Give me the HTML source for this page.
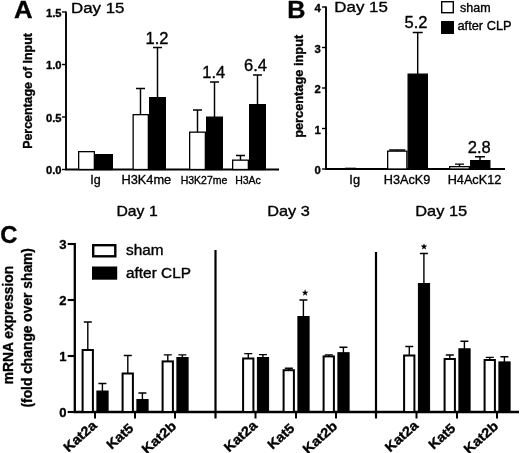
<!DOCTYPE html>
<html><head><meta charset="utf-8"><title>Figure</title>
<style>
html,body{margin:0;padding:0;background:#fff;}
body{width:520px;height:453px;overflow:hidden;font-family:"Liberation Sans",sans-serif;}
svg{display:block;}
svg text{font-family:"Liberation Sans",sans-serif;fill:#000;stroke:#000;stroke-width:0.35px;stroke-linejoin:round;}
svg{filter:blur(0.35px);}
</style></head><body>
<svg width="520" height="453" viewBox="0 0 520 453">
<rect width="520" height="453" fill="#fff"/>
<path d="M66 11.5V169.5M65.2 169.5H279" stroke="#000" stroke-width="1.9" fill="none"/>
<path d="M62 12.0H66" stroke="#000" stroke-width="1.4"/>
<text x="61.6" y="16.5" font-size="11.2" font-weight="bold" text-anchor="end">1.5</text>
<path d="M62 64.5H66" stroke="#000" stroke-width="1.4"/>
<text x="61.6" y="69.0" font-size="11.2" font-weight="bold" text-anchor="end">1.0</text>
<path d="M62 117.0H66" stroke="#000" stroke-width="1.4"/>
<text x="61.6" y="121.5" font-size="11.2" font-weight="bold" text-anchor="end">0.5</text>
<path d="M62 169.5H66" stroke="#000" stroke-width="1.4"/>
<text x="61.6" y="174.0" font-size="11.2" font-weight="bold" text-anchor="end">0.0</text>
<text x="14" y="18.3" font-size="24.3" font-weight="bold" text-anchor="start" textLength="18.6" lengthAdjust="spacingAndGlyphs">A</text>
<text x="71" y="12.5" font-size="15.5" text-anchor="start" textLength="53.5" lengthAdjust="spacingAndGlyphs">Day 15</text>
<text x="32.3" y="91" font-size="12.4" font-weight="bold" text-anchor="middle" transform="rotate(-90 32.3 91)">Percentage of Input</text>
<rect x="78.65" y="151.65" width="15.70" height="17.85" fill="#fff" stroke="#000" stroke-width="1.3"/>
<rect x="95.65" y="154.65" width="16.70" height="14.85" fill="#000" stroke="#000" stroke-width="1.3"/>
<path d="M140.50 115.00V88.50M136.00 88.50H145.00" stroke="#000" stroke-width="1.45" fill="none"/>
<rect x="133.15" y="114.65" width="15.20" height="54.85" fill="#fff" stroke="#000" stroke-width="1.3"/>
<path d="M157.50 98.00V47.50M153.00 47.50H162.00" stroke="#000" stroke-width="1.45" fill="none"/>
<rect x="149.65" y="97.65" width="15.70" height="71.85" fill="#000" stroke="#000" stroke-width="1.3"/>
<path d="M197.50 132.50V110.00M193.00 110.00H202.00" stroke="#000" stroke-width="1.45" fill="none"/>
<rect x="189.65" y="132.15" width="15.70" height="37.35" fill="#fff" stroke="#000" stroke-width="1.3"/>
<path d="M214.50 117.50V82.00M210.00 82.00H219.00" stroke="#000" stroke-width="1.45" fill="none"/>
<rect x="206.65" y="117.15" width="15.70" height="52.35" fill="#000" stroke="#000" stroke-width="1.3"/>
<path d="M240.50 160.50V155.50M236.00 155.50H245.00" stroke="#000" stroke-width="1.45" fill="none"/>
<rect x="232.65" y="160.15" width="15.70" height="9.35" fill="#fff" stroke="#000" stroke-width="1.3"/>
<path d="M257.50 105.00V75.00M253.00 75.00H262.00" stroke="#000" stroke-width="1.45" fill="none"/>
<rect x="249.65" y="104.65" width="15.70" height="64.85" fill="#000" stroke="#000" stroke-width="1.3"/>
<text x="157" y="43.5" font-size="16.5" text-anchor="middle">1.2</text>
<text x="213.8" y="77.5" font-size="16.5" text-anchor="middle">1.4</text>
<text x="255.5" y="71" font-size="16.5" text-anchor="middle">6.4</text>
<text x="95.5" y="184" font-size="12.5" text-anchor="middle">Ig</text>
<text x="146.3" y="183.5" font-size="12.8" text-anchor="middle">H3K4me</text>
<text x="204" y="183.5" font-size="10.5" text-anchor="middle">H3K27me</text>
<text x="248" y="183.5" font-size="10.5" text-anchor="middle">H3Ac</text>
<path d="M326 6.5V169M325.2 169H505" stroke="#000" stroke-width="1.9" fill="none"/>
<path d="M322 7.0H326" stroke="#000" stroke-width="1.4"/>
<text x="320.8" y="12.2" font-size="11.3" font-weight="bold" text-anchor="end">4</text>
<path d="M322 47.5H326" stroke="#000" stroke-width="1.4"/>
<text x="320.8" y="52.7" font-size="11.3" font-weight="bold" text-anchor="end">3</text>
<path d="M322 88.0H326" stroke="#000" stroke-width="1.4"/>
<text x="320.8" y="93.2" font-size="11.3" font-weight="bold" text-anchor="end">2</text>
<path d="M322 128.5H326" stroke="#000" stroke-width="1.4"/>
<text x="320.8" y="133.7" font-size="11.3" font-weight="bold" text-anchor="end">1</text>
<path d="M322 169.0H326" stroke="#000" stroke-width="1.4"/>
<text x="320.8" y="174.2" font-size="11.3" font-weight="bold" text-anchor="end">0</text>
<text x="287.3" y="18.3" font-size="24.3" font-weight="bold" text-anchor="start" textLength="18.2" lengthAdjust="spacingAndGlyphs">B</text>
<text x="334.3" y="12.3" font-size="15.5" text-anchor="start" textLength="53.5" lengthAdjust="spacingAndGlyphs">Day 15</text>
<text x="303.1" y="86.3" font-size="12.8" font-weight="bold" text-anchor="middle" transform="rotate(-90 303.1 86.3)">percentage input</text>
<path d="M345 168.1H356" stroke="#000" stroke-width="0.8"/>
<path d="M397.20 151.50V149.90M389.20 149.90H405.20" stroke="#000" stroke-width="1.45" fill="none"/>
<rect x="387.65" y="151.15" width="19.20" height="17.85" fill="#fff" stroke="#000" stroke-width="1.3"/>
<path d="M417.70 74.50V32.50M412.70 32.50H422.70" stroke="#000" stroke-width="1.45" fill="none"/>
<rect x="408.15" y="74.15" width="19.20" height="94.85" fill="#000" stroke="#000" stroke-width="1.3"/>
<path d="M459.50 167.00V164.10M455.00 164.10H464.00" stroke="#000" stroke-width="1.45" fill="none"/>
<rect x="449.65" y="166.65" width="19.70" height="2.35" fill="#fff" stroke="#000" stroke-width="1.3"/>
<path d="M480.00 161.00V156.80M475.00 156.80H485.00" stroke="#000" stroke-width="1.45" fill="none"/>
<rect x="470.65" y="160.65" width="19.20" height="8.35" fill="#000" stroke="#000" stroke-width="1.3"/>
<text x="416" y="27.5" font-size="16.5" text-anchor="middle">5.2</text>
<text x="479.3" y="153.2" font-size="16.5" text-anchor="middle">2.8</text>
<text x="354.7" y="184.2" font-size="12.8" text-anchor="middle">Ig</text>
<text x="407" y="183.8" font-size="12.7" text-anchor="middle">H3AcK9</text>
<text x="474.5" y="183.8" font-size="12.7" text-anchor="middle">H4AcK12</text>
<rect x="441.7" y="1.7" width="11.6" height="11" fill="#fff" stroke="#000" stroke-width="1.4"/>
<rect x="441" y="21" width="13" height="13" fill="#000"/>
<text x="460" y="11.5" font-size="12.5" text-anchor="start">sham</text>
<text x="457.5" y="29.5" font-size="12.8" text-anchor="start">after CLP</text>
<text x="116.4" y="216" font-size="15" text-anchor="start" textLength="41.3" lengthAdjust="spacingAndGlyphs">Day 1</text>
<text x="267.2" y="216" font-size="15" text-anchor="start" textLength="42.6" lengthAdjust="spacingAndGlyphs">Day 3</text>
<text x="415.2" y="215.5" font-size="15" text-anchor="start" textLength="52" lengthAdjust="spacingAndGlyphs">Day 15</text>
<text x="0.3" y="242.7" font-size="24.3" font-weight="bold" text-anchor="start" textLength="17.2" lengthAdjust="spacingAndGlyphs">C</text>
<path d="M74.8 242.9V412M73.7 412H519" stroke="#000" stroke-width="2.3" fill="none"/>
<path d="M215.5 250V418.5" stroke="#000" stroke-width="2.2" fill="none"/>
<path d="M376 252V418.5" stroke="#000" stroke-width="2.2" fill="none"/>
<path d="M67.7 244H75" stroke="#000" stroke-width="2.1"/>
<text x="66.6" y="248.7" font-size="13" font-weight="bold" text-anchor="end">3</text>
<path d="M67.7 300H75" stroke="#000" stroke-width="2.1"/>
<text x="66.6" y="304.7" font-size="13" font-weight="bold" text-anchor="end">2</text>
<path d="M67.7 356H75" stroke="#000" stroke-width="2.1"/>
<text x="66.6" y="360.7" font-size="13" font-weight="bold" text-anchor="end">1</text>
<path d="M67.7 412H75" stroke="#000" stroke-width="2.1"/>
<text x="66.6" y="416.7" font-size="13" font-weight="bold" text-anchor="end">0</text>
<text x="13.3" y="325" font-size="13.8" font-weight="bold" text-anchor="middle" transform="rotate(-90 13.3 325)">mRNA expression</text>
<text x="31.6" y="327.8" font-size="13.8" font-weight="bold" text-anchor="middle" transform="rotate(-90 31.6 327.8)">(fold change over sham)</text>
<rect x="93.2" y="245.2" width="22.1" height="11.1" fill="#fff" stroke="#000" stroke-width="2.4"/>
<rect x="92" y="266.5" width="25.2" height="13.2" fill="#000"/>
<text x="126" y="255.3" font-size="14" text-anchor="start" textLength="37.5" lengthAdjust="spacingAndGlyphs">sham</text>
<text x="126" y="278" font-size="14" text-anchor="start" textLength="65" lengthAdjust="spacingAndGlyphs">after CLP</text>
<path d="M95 412V418.5" stroke="#000" stroke-width="2"/>
<path d="M87.80 350.00V322.00M83.80 322.00H91.80" stroke="#000" stroke-width="1.4" fill="none"/>
<path d="M102.40 391.50V383.50M98.40 383.50H106.40" stroke="#000" stroke-width="1.4" fill="none"/>
<rect x="82.60" y="350.00" width="10.30" height="62.00" fill="#fff" stroke="#000" stroke-width="2.0"/>
<rect x="96.90" y="391.00" width="11.20" height="21.00" fill="#000" stroke="#000" stroke-width="1.0"/>
<text x="97.6" y="426.5" font-size="13.4" font-weight="bold" text-anchor="end" transform="rotate(-42 97.6 426.5)" textLength="39.3" lengthAdjust="spacingAndGlyphs">Kat2a</text>
<path d="M135 412V418.5" stroke="#000" stroke-width="2"/>
<path d="M127.80 373.50V355.50M123.80 355.50H131.80" stroke="#000" stroke-width="1.4" fill="none"/>
<path d="M142.40 400.00V393.00M138.40 393.00H146.40" stroke="#000" stroke-width="1.4" fill="none"/>
<rect x="122.60" y="373.50" width="10.30" height="38.50" fill="#fff" stroke="#000" stroke-width="2.0"/>
<rect x="136.90" y="399.50" width="11.20" height="12.50" fill="#000" stroke="#000" stroke-width="1.0"/>
<text x="134.3" y="429.5" font-size="13.4" font-weight="bold" text-anchor="end" transform="rotate(-42 134.3 429.5)" textLength="30.8" lengthAdjust="spacingAndGlyphs">Kat5</text>
<path d="M175 412V418.5" stroke="#000" stroke-width="2"/>
<path d="M167.80 361.40V354.90M163.80 354.90H171.80" stroke="#000" stroke-width="1.4" fill="none"/>
<path d="M182.40 358.00V354.90M178.40 354.90H186.40" stroke="#000" stroke-width="1.4" fill="none"/>
<rect x="162.60" y="361.40" width="10.30" height="50.60" fill="#fff" stroke="#000" stroke-width="2.0"/>
<rect x="176.90" y="357.50" width="11.20" height="54.50" fill="#000" stroke="#000" stroke-width="1.0"/>
<text x="177.2" y="427.3" font-size="13.4" font-weight="bold" text-anchor="end" transform="rotate(-42 177.2 427.3)" textLength="40.8" lengthAdjust="spacingAndGlyphs">Kat2b</text>
<path d="M255.5 412V418.5" stroke="#000" stroke-width="2"/>
<path d="M248.30 358.50V353.60M244.30 353.60H252.30" stroke="#000" stroke-width="1.4" fill="none"/>
<path d="M262.90 358.00V354.60M258.90 354.60H266.90" stroke="#000" stroke-width="1.4" fill="none"/>
<rect x="243.10" y="358.50" width="10.30" height="53.50" fill="#fff" stroke="#000" stroke-width="2.0"/>
<rect x="257.40" y="357.50" width="11.20" height="54.50" fill="#000" stroke="#000" stroke-width="1.0"/>
<text x="258.1" y="426.5" font-size="13.4" font-weight="bold" text-anchor="end" transform="rotate(-42 258.1 426.5)" textLength="39.3" lengthAdjust="spacingAndGlyphs">Kat2a</text>
<path d="M296 412V418.5" stroke="#000" stroke-width="2"/>
<path d="M288.80 370.20V368.20M284.80 368.20H292.80" stroke="#000" stroke-width="1.4" fill="none"/>
<path d="M303.40 317.00V300.00M299.40 300.00H307.40" stroke="#000" stroke-width="1.4" fill="none"/>
<rect x="283.60" y="370.20" width="10.30" height="41.80" fill="#fff" stroke="#000" stroke-width="2.0"/>
<rect x="297.90" y="316.50" width="11.20" height="95.50" fill="#000" stroke="#000" stroke-width="1.0"/>
<text x="295.3" y="429.5" font-size="13.4" font-weight="bold" text-anchor="end" transform="rotate(-42 295.3 429.5)" textLength="30.8" lengthAdjust="spacingAndGlyphs">Kat5</text>
<path d="M336 412V418.5" stroke="#000" stroke-width="2"/>
<path d="M328.80 356.40V354.90M324.80 354.90H332.80" stroke="#000" stroke-width="1.4" fill="none"/>
<path d="M343.40 353.20V347.30M339.40 347.30H347.40" stroke="#000" stroke-width="1.4" fill="none"/>
<rect x="323.60" y="356.40" width="10.30" height="55.60" fill="#fff" stroke="#000" stroke-width="2.0"/>
<rect x="337.90" y="352.70" width="11.20" height="59.30" fill="#000" stroke="#000" stroke-width="1.0"/>
<text x="338.2" y="427.3" font-size="13.4" font-weight="bold" text-anchor="end" transform="rotate(-42 338.2 427.3)" textLength="40.8" lengthAdjust="spacingAndGlyphs">Kat2b</text>
<path d="M416.5 412V418.5" stroke="#000" stroke-width="2"/>
<path d="M409.30 355.50V346.50M405.30 346.50H413.30" stroke="#000" stroke-width="1.4" fill="none"/>
<path d="M423.90 284.00V253.50M419.90 253.50H427.90" stroke="#000" stroke-width="1.4" fill="none"/>
<rect x="404.10" y="355.50" width="10.30" height="56.50" fill="#fff" stroke="#000" stroke-width="2.0"/>
<rect x="418.40" y="283.50" width="11.20" height="128.50" fill="#000" stroke="#000" stroke-width="1.0"/>
<text x="419.1" y="426.5" font-size="13.4" font-weight="bold" text-anchor="end" transform="rotate(-42 419.1 426.5)" textLength="39.3" lengthAdjust="spacingAndGlyphs">Kat2a</text>
<path d="M457 412V418.5" stroke="#000" stroke-width="2"/>
<path d="M449.80 359.00V355.00M445.80 355.00H453.80" stroke="#000" stroke-width="1.4" fill="none"/>
<path d="M464.40 349.30V341.20M460.40 341.20H468.40" stroke="#000" stroke-width="1.4" fill="none"/>
<rect x="444.60" y="359.00" width="10.30" height="53.00" fill="#fff" stroke="#000" stroke-width="2.0"/>
<rect x="458.90" y="348.80" width="11.20" height="63.20" fill="#000" stroke="#000" stroke-width="1.0"/>
<text x="456.3" y="429.5" font-size="13.4" font-weight="bold" text-anchor="end" transform="rotate(-42 456.3 429.5)" textLength="30.8" lengthAdjust="spacingAndGlyphs">Kat5</text>
<path d="M497 412V418.5" stroke="#000" stroke-width="2"/>
<path d="M489.80 360.00V357.40M485.80 357.40H493.80" stroke="#000" stroke-width="1.4" fill="none"/>
<path d="M504.40 362.40V356.70M500.40 356.70H508.40" stroke="#000" stroke-width="1.4" fill="none"/>
<rect x="484.60" y="360.00" width="10.30" height="52.00" fill="#fff" stroke="#000" stroke-width="2.0"/>
<rect x="498.90" y="361.90" width="11.20" height="50.10" fill="#000" stroke="#000" stroke-width="1.0"/>
<text x="499.2" y="427.3" font-size="13.4" font-weight="bold" text-anchor="end" transform="rotate(-42 499.2 427.3)" textLength="40.8" lengthAdjust="spacingAndGlyphs">Kat2b</text>
<polygon points="305.10,289.30 305.95,291.63 308.43,291.72 306.48,293.25 307.16,295.63 305.10,294.25 303.04,295.63 303.72,293.25 301.77,291.72 304.25,291.63" fill="#000"/>
<polygon points="424.00,243.20 424.85,245.53 427.33,245.62 425.38,247.15 426.06,249.53 424.00,248.15 421.94,249.53 422.62,247.15 420.67,245.62 423.15,245.53" fill="#000"/>
</svg>
</body></html>
